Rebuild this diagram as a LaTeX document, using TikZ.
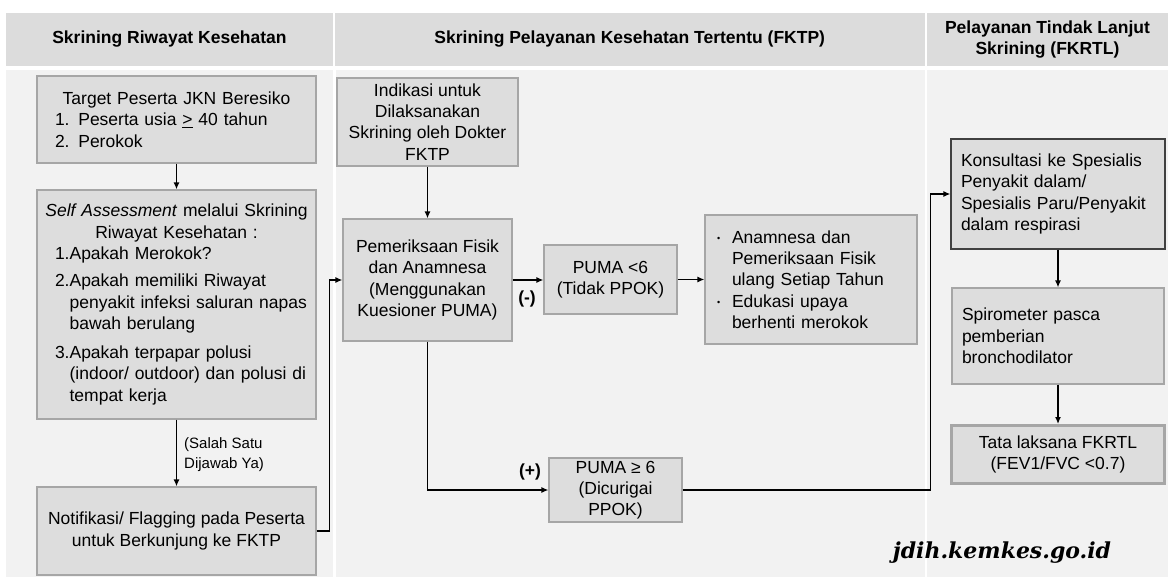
\documentclass[tikz,border=0pt]{standalone}
\usepackage{fontspec}
\setmainfont{Liberation Sans}
\newfontfamily\wmfont{DejaVu Serif}
\usetikzlibrary{arrows.meta,calc}
\definecolor{hdrfill}{HTML}{DCDCDC}
\definecolor{colfill}{HTML}{F2F2F2}
\definecolor{boxfill}{HTML}{DDDDDD}
\definecolor{boxline}{HTML}{A6A6A6}
\definecolor{darkline}{HTML}{404040}
\newcommand{\txtsize}{\fontsize{17.5}{21.3}\selectfont}
\newcommand{\smallbul}{{\fontsize{9}{9}\selectfont\raisebox{2pt}{•}}}
\newcommand{\bulitem}[1]{\mbox{\makebox[15pt][l]{\smallbul}#1}}
\newcommand{\hangline}[2]{\mbox{\hspace*{#1}#2}}
\begin{document}
\begin{tikzpicture}[x=1pt,y=-1pt,
  hdr/.style={fill=hdrfill, inner sep=0pt, align=center, font=\txtsize\bfseries},
  box/.style={draw=boxline, fill=boxfill, line width=1.2pt, inner sep=0pt, font=\txtsize},
  flow/.style={line width=1.3pt, -{Latex[length=7pt,width=6pt]}},
  tag/.style={font=\txtsize\bfseries, inner sep=0pt}
]
\useasboundingbox (0,0) rectangle (1168,579);
\fill[white] (0,0) rectangle (1168,579);

% column backgrounds
\fill[colfill] (6,70) rectangle (333,577);
\fill[colfill] (335.5,70) rectangle (925,577);
\fill[colfill] (927,70) rectangle (1168,577);

% column headers
\node[hdr, minimum width=327, minimum height=53] (h1) at (169.5,39.5) {Skrining Riwayat Kesehatan};
\node[hdr, minimum width=589.5, minimum height=53] (h2) at (629.75,39.5) {Skrining Pelayanan Kesehatan Tertentu (FKTP)};
\node[hdr, minimum width=241, minimum height=53] (h3) at (1047.5,39.5) {Pelayanan Tindak Lanjut\\Skrining (FKRTL)};

% column 1
\node[box, minimum width=279, minimum height=87, text width=243, align=left] (tgt) at (176.5,119.5)
  {\makebox[\linewidth]{Target Peserta JKN Beresiko}\\1. Peserta usia \underline{>} 40 tahun\\2. Perokok};
\node[box, minimum width=279, minimum height=229, text width=243, align=left] (self) at (176.5,304.5)
  {\makebox[\linewidth]{\textit{Self Assessment} melalui Skrining}\\
   \makebox[\linewidth]{Riwayat Kesehatan :}\\
   \mbox{1.Apakah Merokok?}\\[6pt]
   \mbox{2.Apakah memiliki Riwayat}\\
   \hangline{14.6pt}{penyakit infeksi saluran napas}\\
   \hangline{14.6pt}{bawah berulang}\\[8pt]
   \mbox{3.Apakah terpapar polusi}\\
   \hangline{14.6pt}{(indoor/ outdoor) dan polusi di}\\
   \hangline{14.6pt}{tempat kerja}};
\node[box, minimum width=279, minimum height=88, align=center] (notif) at (176.5,531)
  {Notifikasi/ Flagging pada Peserta\\untuk Berkunjung ke FKTP};

% column 2
\node[box, minimum width=181, minimum height=88, align=center] (ind) at (427.5,122)
  {Indikasi untuk\\Dilaksanakan\\Skrining oleh Dokter\\FKTP};
\node[box, minimum width=169, minimum height=122, align=center] (pem) at (427.5,280)
  {Pemeriksaan Fisik\\dan Anamnesa\\(Menggunakan\\Kuesioner PUMA)};
\node[box, minimum width=133, minimum height=69, align=center] (pl6) at (610.5,279.5)
  {PUMA <6\\(Tidak PPOK)};
\node[box, minimum width=212, minimum height=129, text width=188, align=left] (bul) at (811,279.5)
  {\bulitem{Anamnesa dan}\\
   \hangline{15pt}{Pemeriksaan Fisik}\\
   \hangline{15pt}{ulang Setiap Tahun}\\
   \bulitem{Edukasi upaya}\\
   \hangline{15pt}{berhenti merokok}};
\node[box, minimum width=133, minimum height=64, align=center] (pg6) at (615.5,490)
  {PUMA ≥ 6\\(Dicurigai\\PPOK)};

% column 3
\node[box, draw=darkline, minimum width=214, minimum height=110, text width=194, align=left] (kon) at (1058,194)
  {Konsultasi ke Spesialis\\Penyakit dalam/\\Spesialis Paru/Penyakit\\dalam respirasi};
\node[box, minimum width=212, minimum height=96, text width=192, align=left] (spi) at (1058,336)
  {Spirometer pasca\\pemberian\\bronchodilator};
\node[box, line width=3pt, minimum width=213, minimum height=58, align=center] (tata) at (1058,454.5)
  {Tata laksana FKRTL\\(FEV1/FVC <0.7)};

% connectors
\draw[flow] (tgt.south) -- (self.north);
\draw[flow] (self.south) -- (notif.north);
\node[font=\fontsize{15}{20}\selectfont, align=left, anchor=west, inner sep=0pt] (cond) at (184,455)
  {(Salah Satu\\Dijawab Ya)};
\draw[flow] (notif.east) -- ++(13,0) |- (pem.west);
\draw[flow] (ind.south) -- (pem.north);
\draw[flow] (pem.east) -- (pem.east -| pl6.west);
\node[tag] (neg) at (527,299) {(-)};
\draw[flow] (pl6.east) -- (pl6.east -| bul.west);
\draw[flow] (pem.south) |- (pg6.west);
\node[tag] (pos) at (530,472) {(+)};
\coordinate (riser) at ($(kon.west)+(-20,0)$);
\draw[flow] (pg6.east) -| (riser) -- (kon.west);
\draw[flow] (kon.south) -- (spi.north);
\draw[flow] (spi.south) -- (tata.north);

% site mark
\node[font=\wmfont\bfseries\itshape\fontsize{22}{22}\selectfont, inner sep=0pt] (wm) at (1002,553) {jdih.kemkes.go.id};
\end{tikzpicture}
\end{document}
